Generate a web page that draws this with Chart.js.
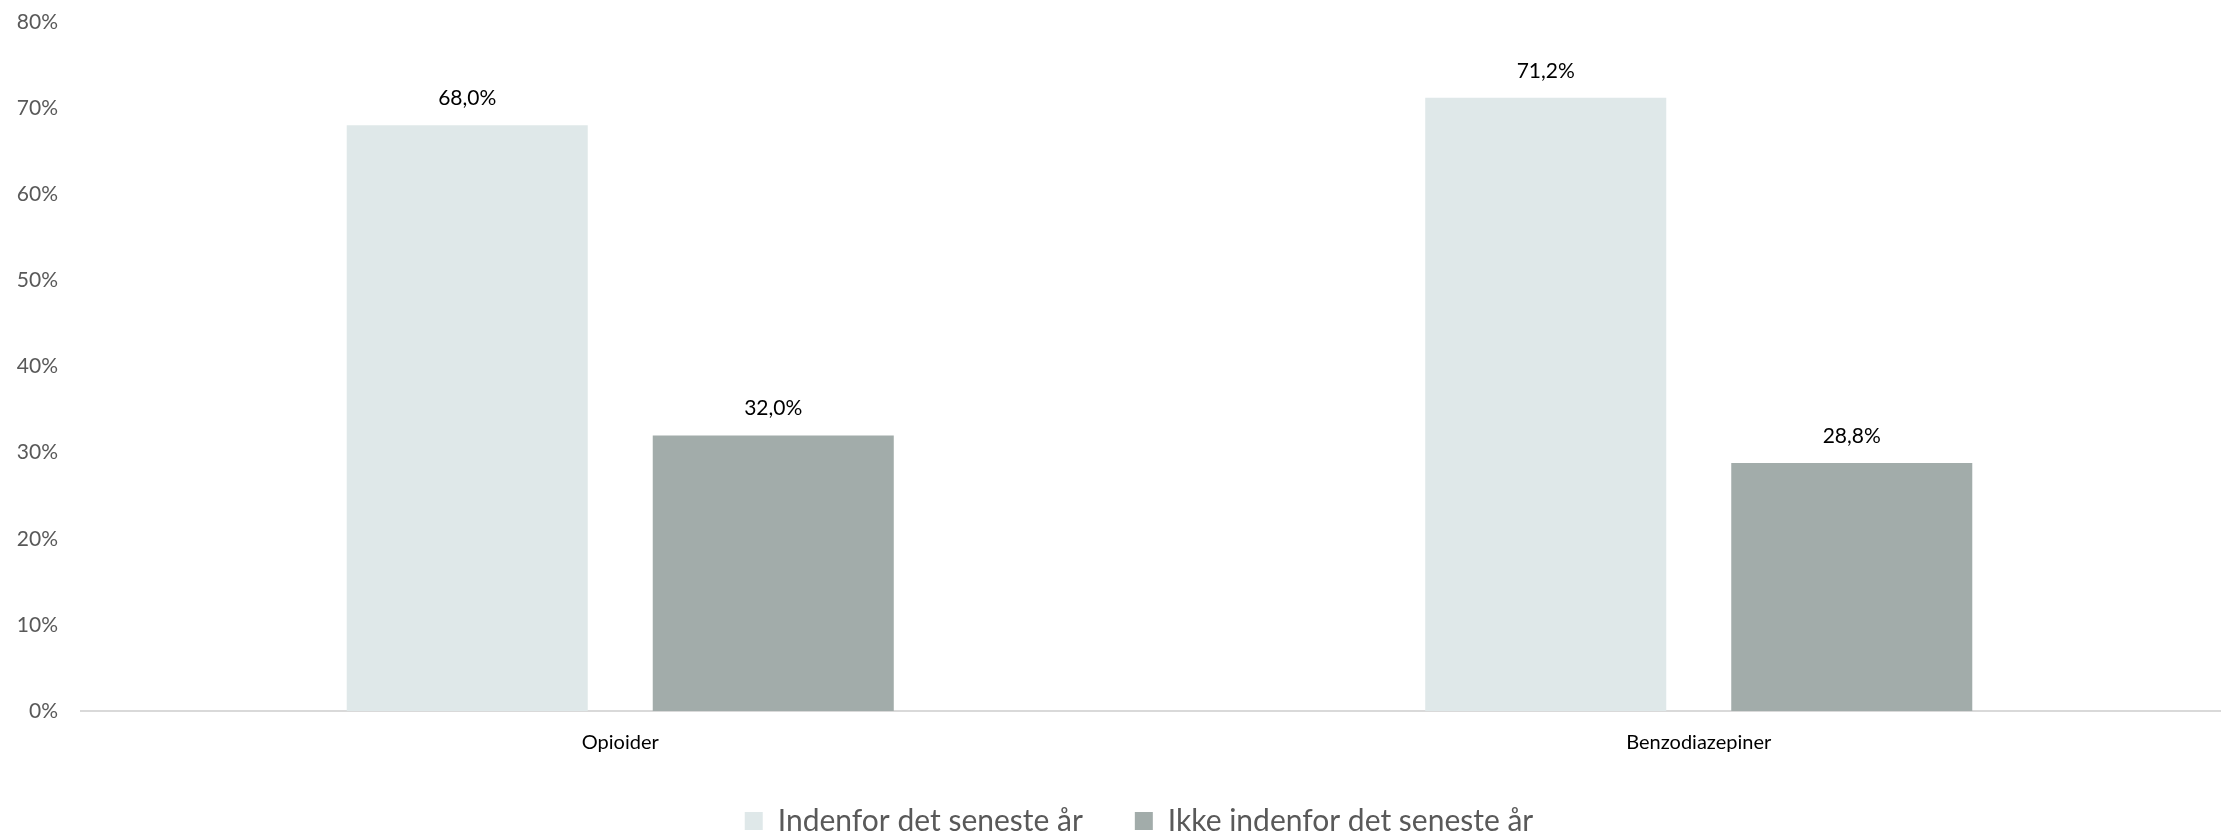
<!DOCTYPE html>
<html>
<head>
<meta charset="utf-8">
<script src="https://cdn.jsdelivr.net/npm/chart.js@4/dist/chart.umd.min.js"></script>
<style>
    html, body { margin: 0; padding: 0; background: #fff; overflow: hidden; }
    #wrap { width: 2278px; height: 867px; }
</style>
</head>
<body>
<div id="wrap"><canvas id="chart"></canvas></div>
<script>
const categories = ['Opioider', 'Benzodiazepiner'];
const seriesNames = ['Indenfor det seneste år', 'Ikke indenfor det seneste år'];
const withinYear = [68.0, 71.2];
const notWithinYear = [32.0, 28.8];
const seriesColors = ['#DFE8E9', '#A2ACAA'];

const valueLabels = {
    id: 'valueLabels',
    afterDatasetsDraw(chart) {
        let ctx = chart.ctx;
        ctx.save();
        ctx.font = '21px Lato';
        ctx.fillStyle = '#000000';
        ctx.textAlign = 'center';
        ctx.textBaseline = 'middle';
        chart.data.datasets.forEach(function (ds, i) {
            chart.getDatasetMeta(i).data.forEach(function (bar, j) {
                let txt = ds.data[j].toFixed(1).replace('.', ',') + '%';
                ctx.fillText(txt, bar.x, bar.y - 27);
            });
        });
        ctx.restore();
    }
};

// legend sits closer to the axis labels than chart.js would put it
const legendShift = {
    id: 'legendShift',
    afterLayout(chart) {
        let lg = chart.legend;
        let top = 754;
        lg.bottom = top + lg.height;
        lg.top = top;
        lg.left += 20;
        lg.right += 20;
    }
};

new Chart(document.getElementById('chart'), {
    type: 'bar',
    data: {
        labels: categories,
        datasets: [
            {
                label: seriesNames[0],
                data: withinYear,
                backgroundColor: seriesColors[0]
            },
            {
                label: seriesNames[1],
                data: notWithinYear,
                backgroundColor: seriesColors[1]
            }]
    },
    plugins: [valueLabels, legendShift],
    options: {
        responsive: true,
        maintainAspectRatio: false,
        animation: false,
        categoryPercentage: 0.5675,
        barPercentage: 0.7876,
        layout: {
            padding: {top: 22, right: 40, left: 0, bottom: 0}
        },
        plugins: {
            tooltip: {enabled: false},
            legend: {
                position: 'bottom',
                labels: {
                    boxWidth: 18,
                    boxHeight: 18,
                    padding: 52,
                    color: '#595959',
                    font: {family: 'Lato', size: 30}
                }
            }
        },
        scales: {
            x: {
                grid: {display: false, drawTicks: false},
                border: {color: '#D9D9D9', width: 2},
                ticks: {
                    color: '#000000',
                    padding: 20,
                    font: {family: 'Lato', size: 20}
                }
            },
            y: {
                min: 0,
                max: 80,
                grid: {display: false, drawTicks: false},
                border: {display: false},
                afterFit: function (scale) {
                    scale.width = 81;
                    scale.paddingTop = 0;
                },
                ticks: {
                    stepSize: 10,
                    color: '#595959',
                    padding: 23,
                    font: {family: 'Lato', size: 21},
                    callback: function (v) {
                        return v + '%';
                    }
                }
            }
        }
    }
});
</script>
</body>
</html>
